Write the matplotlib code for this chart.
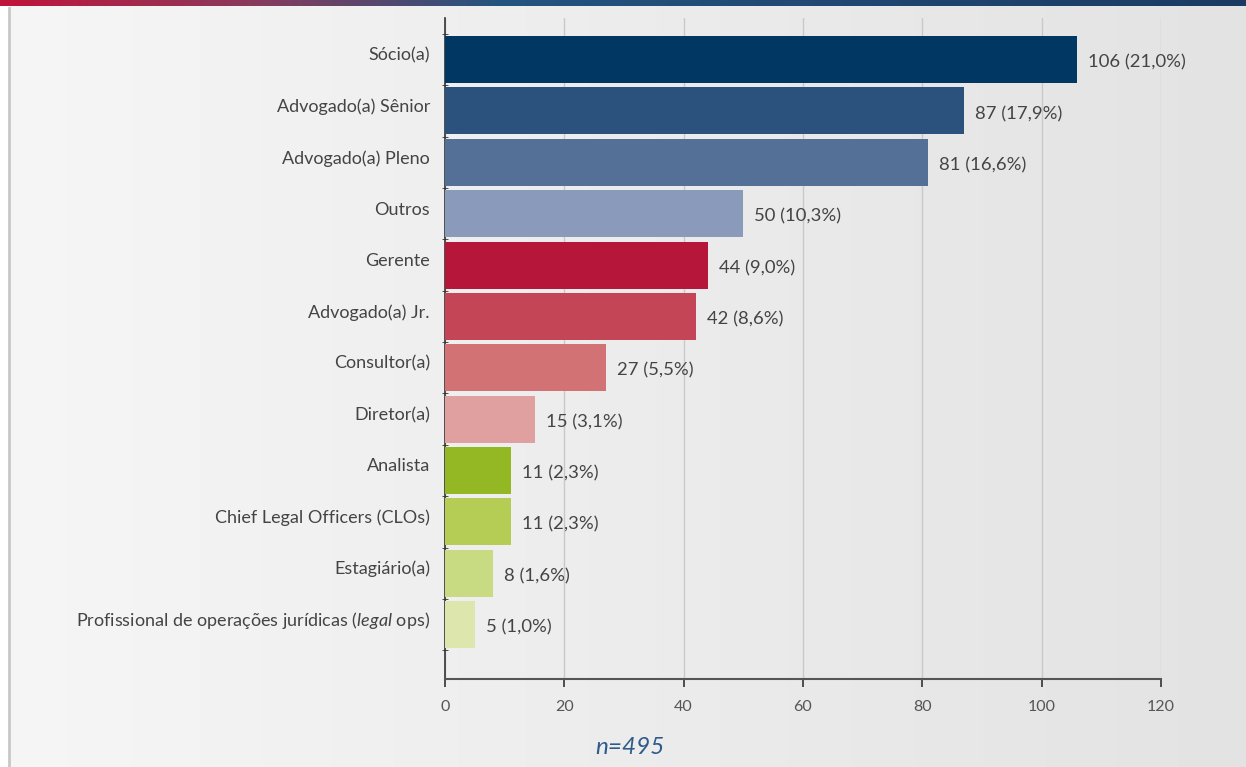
import numpy as np
import matplotlib
matplotlib.use("Agg")
import matplotlib.pyplot as plt
from matplotlib.colors import LinearSegmentedColormap

categories = ["Sócio(a)", "Advogado(a) Sênior", "Advogado(a) Pleno", "Outros", "Gerente",
              "Advogado(a) Jr.", "Consultor(a)", "Diretor(a)", "Analista",
              "Chief Legal Officers (CLOs)", "Estagiário(a)",
              r"Profissional de operações jurídicas ($\mathit{legal}$ ops)"]
values = [106, 87, 81, 50, 44, 42, 27, 15, 11, 11, 8, 5]
percents = ["21,0%", "17,9%", "16,6%", "10,3%", "9,0%", "8,6%", "5,5%", "3,1%",
            "2,3%", "2,3%", "1,6%", "1,0%"]
colors = ["#003763", "#2a527c", "#557096", "#8a9aba", "#b51639", "#c34556",
          "#d27275", "#e0a09f", "#93b823", "#b5cd55", "#c8da82", "#dce6ad"]
xticks = [0, 20, 40, 60, 80, 100, 120]
n_label = "n=495"

plt.rcParams['font.family'] = ['Lato', 'DejaVu Sans']
plt.rcParams['mathtext.fontset'] = 'custom'
plt.rcParams['mathtext.rm'] = 'Lato'
plt.rcParams['mathtext.it'] = 'Lato:italic'

W, H = 1246, 767
fig = plt.figure(figsize=(W / 100, H / 100), dpi=100)

# background gradient panel
bg = fig.add_axes([0, 0, 1, 1], zorder=0)
bg.set_axis_off()
bg_cmap = LinearSegmentedColormap.from_list("bg", ["#f6f6f6", "#e3e3e3"])
bg.imshow(np.linspace(0, 1, 256)[None, :], aspect="auto", cmap=bg_cmap,
          extent=[0, 1, 0, 1], transform=bg.transAxes)
bg.set_xlim(0, 1); bg.set_ylim(0, 1)
bg.plot([9 / W, 9 / W], [0, 1 - 8 / H], color="#c8c8c8", lw=2, transform=bg.transAxes)
bg.add_patch(plt.Rectangle((0, 0), 8 / W, 1, color="white", transform=bg.transAxes))

# top gradient bar
top = fig.add_axes([0, 1 - 6 / H, 1, 6 / H], zorder=1)
top.set_axis_off()
top_cmap = LinearSegmentedColormap.from_list(
    "top", [(0, "#c0143b"), (0.2, "#8a3a5c"), (0.4, "#245480"), (1, "#1b3a62")])
top.imshow(np.linspace(0, 1, 512)[None, :], aspect="auto", cmap=top_cmap,
           extent=[0, 1, 0, 1])

ax = fig.add_axes([445 / W, 1 - 679 / H, (1161 - 445) / W, (679 - 18) / H], zorder=2)
ax.set_facecolor("none")
y = np.arange(len(categories))
ax.barh(y, values, height=0.915, color=colors, zorder=3)
for yi, v, p in zip(y, values, percents):
    ax.annotate(f"{v} ({p})", xy=(v, yi), xycoords="data", xytext=(11, -3),
                textcoords="offset pixels", va="center", ha="left",
                fontsize=13.3, color="#444444", zorder=4)
for yi, c in zip(y, categories):
    ax.annotate(c, xy=(0, yi), xycoords=("axes fraction", "data"), xytext=(-15, 4),
                textcoords="offset pixels", va="center", ha="right",
                fontsize=13.0, color="#444444", annotation_clip=False)

ax.set_xlim(0, 120)
ax.set_ylim(12.06, -0.81)
ax.set_xticks(xticks)
ax.set_xticklabels([str(t) for t in xticks])
ax.set_yticks([])
ax.set_yticks(np.arange(len(categories) + 1) - 0.5, minor=True)
ax.tick_params(axis="y", which="minor", length=4, direction="inout", color="#333333")
ax.tick_params(axis="x", length=6, width=1.2, color="#333333", pad=9,
               labelsize=11.5, labelcolor="#555555")
ax.grid(axis="x", color="#c9c9c9", lw=1, zorder=0)
for s in ["top", "right"]:
    ax.spines[s].set_visible(False)
ax.spines["left"].set_color("#333333")
ax.spines["left"].set_linewidth(1.2)
ax.spines["bottom"].set_color("#555555")
ax.spines["bottom"].set_linewidth(1.5)

fig.text(630 / W, 1 - 748 / H, n_label, ha="center", va="center", fontsize=17.5,
         style="italic", color="#2f5a8a")

fig.savefig("out.png", dpi=100)
